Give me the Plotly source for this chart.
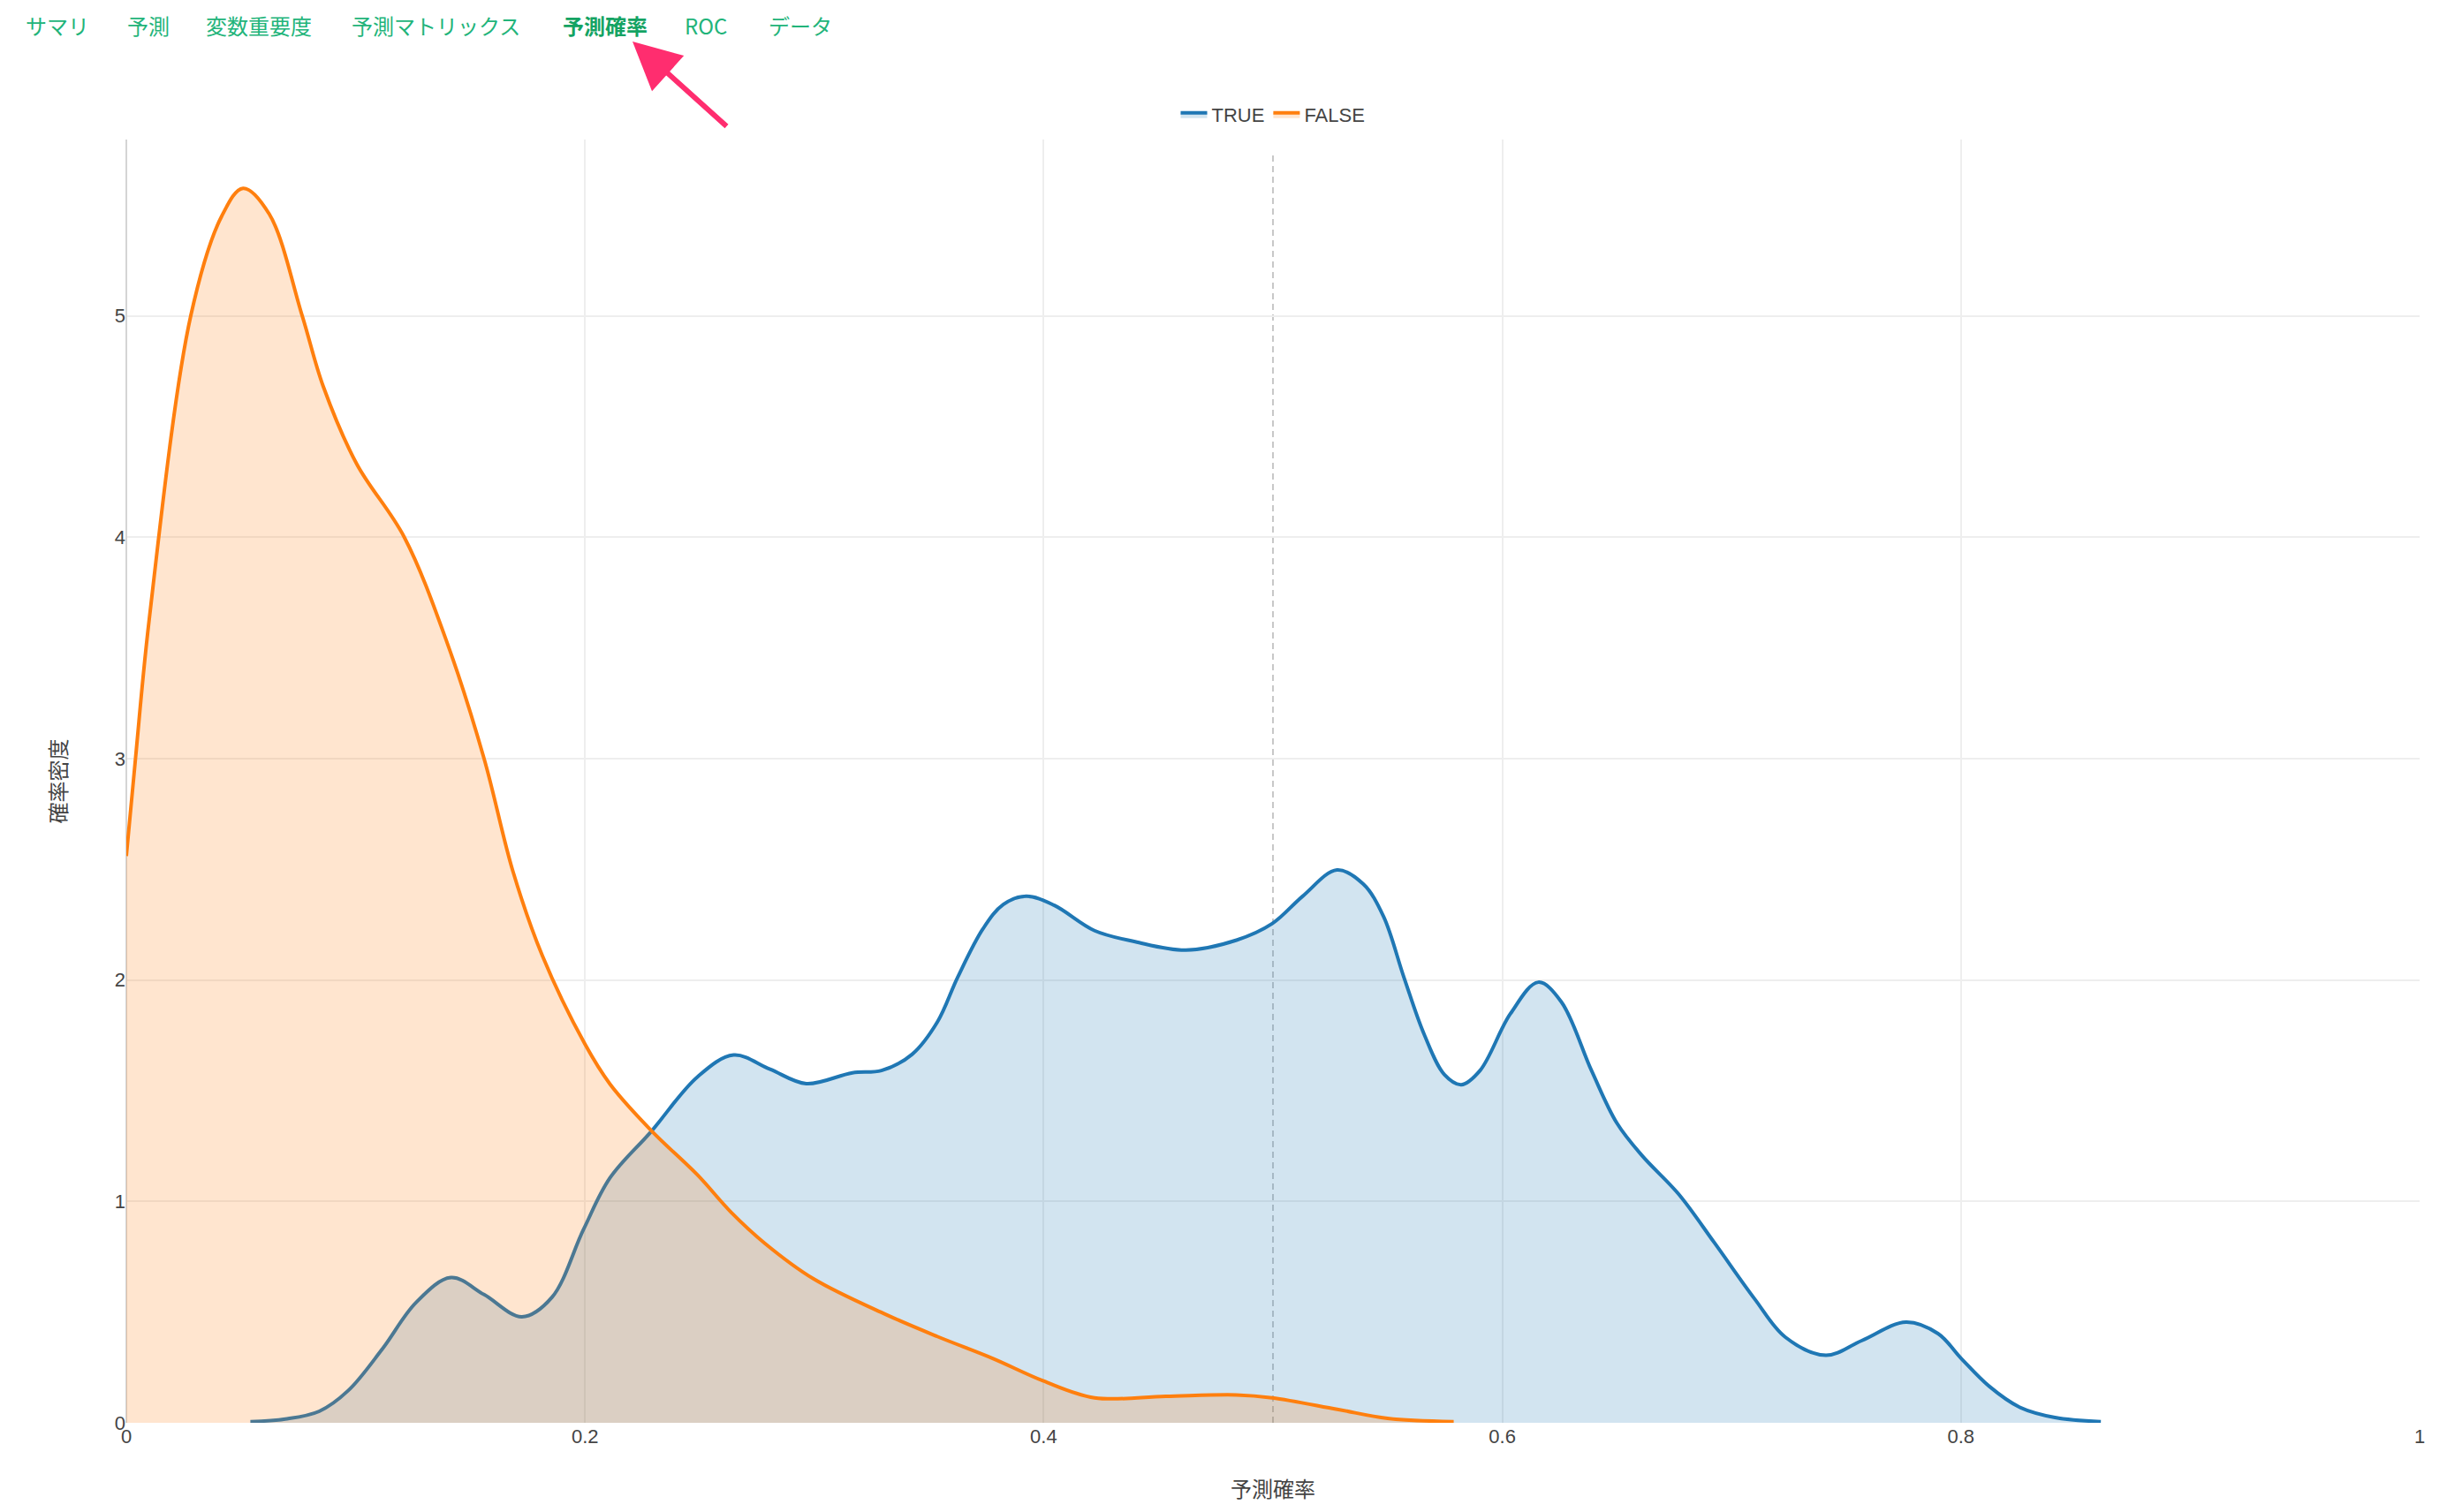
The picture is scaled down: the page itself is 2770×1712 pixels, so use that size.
import plotly.graph_objects as go

# ---- data ----
false_x = [0, 0.004, 0.010, 0.0281, 0.0416, 0.0509, 0.0623, 0.0767, 0.0859,
           0.1005, 0.1212, 0.14, 0.156, 0.1686, 0.1814, 0.2, 0.2109, 0.2289,
           0.249, 0.2638, 0.2785, 0.2997, 0.331, 0.3536, 0.378, 0.3997, 0.4222, 0.4532,
           0.4841, 0.4996, 0.528, 0.550, 0.5788]
false_y = [2.56, 3.0, 3.63, 5.0, 5.45, 5.576, 5.46, 5.0, 4.68,
           4.33, 4.0, 3.52, 3.0, 2.49, 2.11, 1.71, 1.53, 1.32,
           1.12, 0.95, 0.81, 0.65, 0.49, 0.39, 0.29, 0.19, 0.113, 0.120,
           0.126, 0.113, 0.061, 0.02, 0.005]

true_x = [0.0541, 0.0693, 0.0841, 0.0968, 0.1116, 0.1264, 0.1416, 0.156, 0.1725, 0.1856,
          0.1993, 0.2109, 0.2289, 0.249, 0.2648, 0.2807, 0.2965, 0.3166, 0.3293, 0.3426,
          0.3537, 0.3625, 0.3736, 0.3824, 0.3924, 0.4045, 0.4222, 0.4399, 0.462, 0.4841,
          0.4996, 0.5129, 0.5279, 0.5394, 0.5482, 0.5571, 0.5659, 0.5748, 0.5821, 0.5903,
          0.6035, 0.6157, 0.6257, 0.6389, 0.65, 0.661, 0.6768, 0.6925, 0.710, 0.7234,
          0.7411, 0.7567, 0.776, 0.79, 0.80, 0.8122, 0.8255, 0.841, 0.861]
true_y = [0.005, 0.017, 0.052, 0.146, 0.333, 0.544, 0.656, 0.579, 0.479, 0.567,
          0.872, 1.106, 1.316, 1.562, 1.661, 1.597, 1.532, 1.581, 1.591, 1.664,
          1.811, 2.012, 2.232, 2.341, 2.378, 2.338, 2.223, 2.173, 2.135, 2.180,
          2.254, 2.378, 2.497, 2.433, 2.287, 2.012, 1.755, 1.572, 1.527, 1.591,
          1.847, 1.990, 1.902, 1.591, 1.353, 1.206, 1.034, 0.813, 0.560, 0.387,
          0.305, 0.371, 0.455, 0.403, 0.292, 0.166, 0.071, 0.024, 0.005]

threshold = 0.5
nav_labels = ["サマリ", "予測", "変数重要度", "予測マトリックス", "予測確率", "ROC", "データ"]
nav_active = "予測確率"
x_ticks = [0, 0.2, 0.4, 0.6, 0.8, 1]
x_ticktext = ["0", "0.2", "0.4", "0.6", "0.8", "1"]
y_ticks = [0, 1, 2, 3, 4, 5]

# ---- style ----
FONT = "Liberation Sans, Arial, Noto Sans CJK JP, sans-serif"
CJK = "Noto Sans CJK JP, sans-serif"
# page body has an 8px margin, so the figure is a little smaller than the window
W, H = 2754, 1696
ML, MR, MT, MB = 135, 23, 150, 93
PW, PH = W - ML - MR, H - MT - MB


def px_x(p):
    return (p - ML) / PW


def px_y(p):
    return (H - MB - p) / PH


fig = go.Figure()
fig.add_trace(go.Scatter(
    x=true_x, y=true_y, name="TRUE", mode="lines",
    line=dict(color="#1f77b4", width=4, shape="spline", smoothing=1.0),
    fill="tozeroy", fillcolor="rgba(31,119,180,0.2)"))
fig.add_trace(go.Scatter(
    x=false_x, y=false_y, name="FALSE", mode="lines",
    line=dict(color="#ff7f0e", width=4, shape="spline", smoothing=1.0),
    fill="tozeroy", fillcolor="rgba(255,127,14,0.2)"))

fig.add_shape(type="line", xref="x", yref="y", x0=threshold, x1=threshold, y0=0, y1=5.73,
              line=dict(color="#c8c8c8", width=2, dash="7px,5px"), layer="below")

# navigation bar
nav_left_px = [19, 134, 223, 388, 627, 765, 860]
annotations = []
for lab, lx in zip(nav_labels, nav_left_px):
    active = lab == nav_active
    annotations.append(dict(
        text=("<b>%s</b>" % lab) if active else lab,
        xref="paper", yref="paper", x=px_x(lx), y=px_y(1), yanchor="top",
        xanchor="left", showarrow=False,
        font=dict(family=CJK, size=24,
                  color="#14a363" if active else "#22b47a")))

# pink pointer arrow
annotations.append(dict(
    text=" ", xref="paper", yref="paper", x=px_x(708), y=px_y(39),
    ax=111, ay=100, showarrow=True, arrowhead=2, arrowsize=1.8, arrowwidth=6,
    arrowcolor="#ff2d6f", standoff=0, startstandoff=0))

fig.update_layout(
    template="none",
    width=W, height=H,
    margin=dict(l=ML, r=MR, t=MT, b=MB),
    paper_bgcolor="white", plot_bgcolor="white",
    font=dict(family=FONT, size=22, color="#444"),
    showlegend=True,
    legend=dict(orientation="h", x=0.5, xanchor="center", y=1.0193, yanchor="middle",
                font=dict(size=22, color="#444"), bgcolor="rgba(0,0,0,0)"),
    annotations=annotations,
    xaxis=dict(range=[0, 1], tickvals=x_ticks, ticktext=x_ticktext,
               showgrid=True, gridcolor="#eeeeee", gridwidth=2,
               zeroline=True, zerolinecolor="#d4d4d4", zerolinewidth=2,
               showline=False, ticks="", automargin=False,
               tickfont=dict(size=22, color="#444"),
               title=dict(text="予測確率", font=dict(family=CJK, size=24, color="#444"), standoff=40)),
    yaxis=dict(range=[0, 5.796], tickvals=y_ticks,
               showgrid=True, gridcolor="#eeeeee", gridwidth=2,
               zeroline=False, showline=False, ticks="", automargin=False,
               tickfont=dict(size=22, color="#444"),
               title=dict(text="確率密度", font=dict(family=CJK, size=24, color="#444"), standoff=47)),
)

fig.write_html("out.html")
